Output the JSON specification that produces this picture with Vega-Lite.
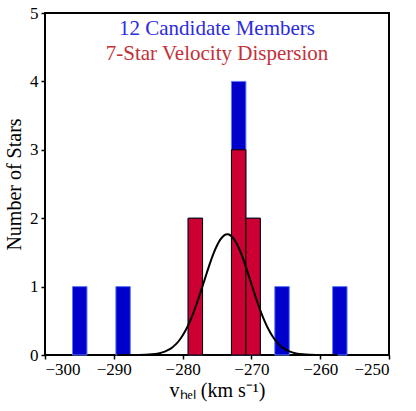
{
  "$schema": "https://vega.github.io/schema/vega-lite/v6.json",
  "width": 344,
  "height": 342,
  "autosize": {"type": "none"},
  "padding": {"left": 45, "top": 13, "right": 27, "bottom": 56},
  "background": "white",
  "config": {
    "view": {"stroke": "black", "strokeWidth": 2},
    "font": "Liberation Serif"
  },
  "datasets": {
    "blue": [
      {"x0": -296.0, "x1": -293.9, "count": 1},
      {"x0": -289.7, "x1": -287.6, "count": 1},
      {"x0": -279.2, "x1": -277.1, "count": 2},
      {"x0": -272.9, "x1": -270.8, "count": 4},
      {"x0": -270.8, "x1": -268.7, "count": 2},
      {"x0": -266.6, "x1": -264.5, "count": 1},
      {"x0": -258.2, "x1": -256.1, "count": 1}
    ],
    "red": [
      {"x0": -279.2, "x1": -277.1, "count": 2},
      {"x0": -272.9, "x1": -270.8, "count": 3},
      {"x0": -270.8, "x1": -268.7, "count": 2}
    ],
    "curve": [
      {"v": -289.5, "n": 0},
      {"v": -287.5, "n": 0.0004},
      {"v": -286.5, "n": 0.0012},
      {"v": -285.5, "n": 0.0035},
      {"v": -284.5, "n": 0.0094},
      {"v": -283.5, "n": 0.0234},
      {"v": -282.5, "n": 0.0531},
      {"v": -282.0, "n": 0.0776},
      {"v": -281.5, "n": 0.1108},
      {"v": -281.0, "n": 0.155},
      {"v": -280.5, "n": 0.212},
      {"v": -280.0, "n": 0.284},
      {"v": -279.5, "n": 0.372},
      {"v": -279.0, "n": 0.477},
      {"v": -278.5, "n": 0.599},
      {"v": -278.0, "n": 0.735},
      {"v": -277.5, "n": 0.883},
      {"v": -277.0, "n": 1.039},
      {"v": -276.5, "n": 1.196},
      {"v": -276.0, "n": 1.347},
      {"v": -275.5, "n": 1.485},
      {"v": -275.0, "n": 1.601},
      {"v": -274.5, "n": 1.690},
      {"v": -274.0, "n": 1.746},
      {"v": -273.5, "n": 1.765},
      {"v": -273.0, "n": 1.746},
      {"v": -272.5, "n": 1.690},
      {"v": -272.0, "n": 1.601},
      {"v": -271.5, "n": 1.485},
      {"v": -271.0, "n": 1.347},
      {"v": -270.5, "n": 1.196},
      {"v": -270.0, "n": 1.039},
      {"v": -269.5, "n": 0.883},
      {"v": -269.0, "n": 0.735},
      {"v": -268.5, "n": 0.599},
      {"v": -268.0, "n": 0.477},
      {"v": -267.5, "n": 0.372},
      {"v": -267.0, "n": 0.284},
      {"v": -266.5, "n": 0.212},
      {"v": -266.0, "n": 0.155},
      {"v": -265.5, "n": 0.1108},
      {"v": -265.0, "n": 0.0776},
      {"v": -264.5, "n": 0.0531},
      {"v": -263.5, "n": 0.0234},
      {"v": -262.5, "n": 0.0094},
      {"v": -261.5, "n": 0.0035},
      {"v": -260.5, "n": 0.0012},
      {"v": -259.5, "n": 0.0004},
      {"v": -257.5, "n": 0}
    ],
    "labels": [
      {"tx": -275, "ty": 4.68, "label": "12 Candidate Members", "grp": "blue"},
      {"tx": -275, "ty": 4.31, "label": "7-Star Velocity Dispersion", "grp": "red"}
    ]
  },
  "layer": [
    {
      "data": {"name": "blue"},
      "mark": {"type": "rect", "fill": "#0000cc", "stroke": "#5c7cf5", "strokeWidth": 1},
      "encoding": {
        "x": {
          "field": "x0", "type": "quantitative",
          "scale": {"domain": [-300, -250], "nice": false, "zero": false},
          "axis": {
            "values": [-300, -290, -280, -270, -260, -250],
            "labelExpr": "replace(format(datum.value, 'd'), '-', '\u2212')",
            "title": "v\u2095\u2091\u2097 (km s\u207b\u00b9)",
            "grid": false, "domain": false,
            "tickColor": "black", "tickWidth": 1.5, "tickSize": 4,
            "labelFont": "Liberation Serif", "labelFontSize": 17, "labelColor": "black",
            "titleFont": "Liberation Serif", "titleFontSize": 20, "titleFontWeight": "normal", "titleColor": "black",
            "titlePadding": 3,
            "labelPadding": 2
          }
        },
        "x2": {"field": "x1"},
        "y": {
          "field": "count", "type": "quantitative",
          "scale": {"domain": [0, 5], "nice": false},
          "axis": {
            "values": [0, 1, 2, 3, 4, 5],
            "format": "d",
            "title": "Number of Stars",
            "grid": false, "domain": false,
            "tickColor": "black", "tickWidth": 1.5, "tickSize": 4,
            "labelFont": "Liberation Serif", "labelFontSize": 17, "labelColor": "black",
            "titleFont": "Liberation Serif", "titleFontSize": 20, "titleFontWeight": "normal", "titleColor": "black",
            "titlePadding": 5,
            "labelPadding": 3
          }
        },
        "y2": {"datum": 0}
      }
    },
    {
      "data": {"name": "red"},
      "mark": {"type": "rect", "fill": "#cc0033", "stroke": "black", "strokeWidth": 1},
      "encoding": {
        "x": {"field": "x0", "type": "quantitative"},
        "x2": {"field": "x1"},
        "y": {"field": "count", "type": "quantitative"},
        "y2": {"datum": 0}
      }
    },
    {
      "data": {"name": "curve"},
      "mark": {"type": "line", "color": "black", "strokeWidth": 2, "interpolate": "monotone"},
      "encoding": {
        "x": {"field": "v", "type": "quantitative"},
        "y": {"field": "n", "type": "quantitative"}
      }
    },
    {
      "data": {"name": "labels"},
      "mark": {"type": "text", "fontSize": 21, "font": "Liberation Serif", "align": "center", "baseline": "alphabetic"},
      "encoding": {
        "x": {"field": "tx", "type": "quantitative"},
        "y": {"field": "ty", "type": "quantitative"},
        "text": {"field": "label"},
        "color": {
          "field": "grp", "type": "nominal",
          "scale": {"domain": ["blue", "red"], "range": ["#2b2be0", "#c4303a"]},
          "legend": null
        }
      }
    }
  ]
}
